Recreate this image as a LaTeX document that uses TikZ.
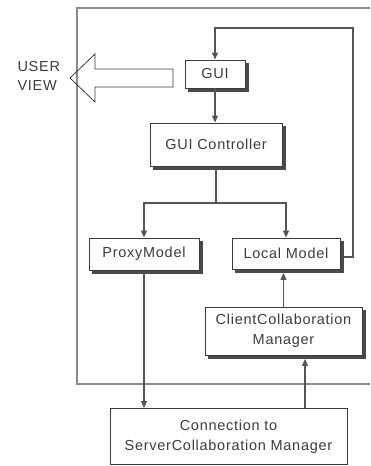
\documentclass[tikz,border=0pt]{standalone}
\usepackage{fontspec}
\setmainfont[LetterSpace=5]{Liberation Sans}
\usetikzlibrary{arrows.meta}
\definecolor{ink}{HTML}{3C3C3C}
\definecolor{wire}{HTML}{555555}
\definecolor{rim}{HTML}{8A8A8A}
\definecolor{edgegrey}{HTML}{4A4A4A}
\begin{document}
\begin{tikzpicture}[x=1pt,y=-1pt,
  txt/.style={text=ink,font=\fontsize{14.5}{20}\selectfont},
  block/.style={txt,draw=ink,line width=0.9pt,fill=white,inner sep=0pt,align=center},
  backing/.style={draw=edgegrey,fill=edgegrey,line width=0.9pt,inner sep=0pt},
  wireline/.style={draw=wire,line width=1.2pt},
  arr/.style={wireline,-{Triangle[length=7pt,width=6pt]}}]
\useasboundingbox (0,0) rectangle (370,466);

% outer system frame, open to the right
\draw[rim,line width=2pt] (370,8) -- (77,8) -- (77,384) -- (370,384);

% user view block arrow
\draw[ink,line width=0.8pt] (70,78) -- (95,54) -- (95,69) -- (173,69) -- (173,87)
  -- (95,87) -- (95,102) -- cycle;
\node[txt,anchor=west] (user) at (14,67) {USER};
\node[txt,anchor=west] (view) at (14,86) {VIEW};

% dark backing plates, offset down and right, give the boxes a raised edge
\node[backing,minimum width=60pt,minimum height=28pt] (guiback) at (218.5,77.5) {};
\node[backing,minimum width=132pt,minimum height=43pt] (ctrlback) at (219.5,148) {};
\node[backing,minimum width=110pt,minimum height=32pt] (proxyback) at (147.5,257.5) {};
\node[backing,minimum width=108pt,minimum height=31pt] (localback) at (289.5,257) {};
\node[backing,minimum width=157pt,minimum height=48pt] (clientback) at (287,334.5) {};

% components
\node[block,minimum width=60pt,minimum height=28pt] (gui) at (215,74) {GUI};
\node[block,minimum width=132pt,minimum height=43pt] (ctrl) at (216,144.5) {GUI Controller};
\node[block,minimum width=110pt,minimum height=32pt] (proxy) at (144,254) {ProxyModel};
\node[block,minimum width=108pt,minimum height=31pt] (local) at (286,253.5) {Local Model};
\node[block,minimum width=157pt,minimum height=48pt] (client) at (283.5,331)
  {ClientCollaboration\\Manager};
\node[block,minimum width=237pt,minimum height=56pt] (conn) at (228.5,436.5)
  {Connection to\\ServerCollaboration Manager};

% connectors
\coordinate (loopR) at (353,28);
\coordinate (split) at (216,203);
\draw[arr] (localback.east) -- (localback.east -| loopR) -- (loopR) -- (loopR -| gui.north) -- (gui.north);
\draw[arr] (gui.south) -- (gui.south |- ctrl.north);
\draw[wireline] (ctrlback.south -| ctrl.south) -- (split);
\draw[arr] (split) -| (proxy.north);
\draw[arr] (split) -| (local.north);
\draw[arr] (proxyback.south -| proxy.south) -- (proxy.south |- conn.north);
\draw[arr] (client.north) -- (client.north |- localback.south);
\draw[arr] ([xshift=21.5pt]conn.north -| client.south) -- ([xshift=21.5pt]clientback.south -| client.south);
\end{tikzpicture}
\end{document}
